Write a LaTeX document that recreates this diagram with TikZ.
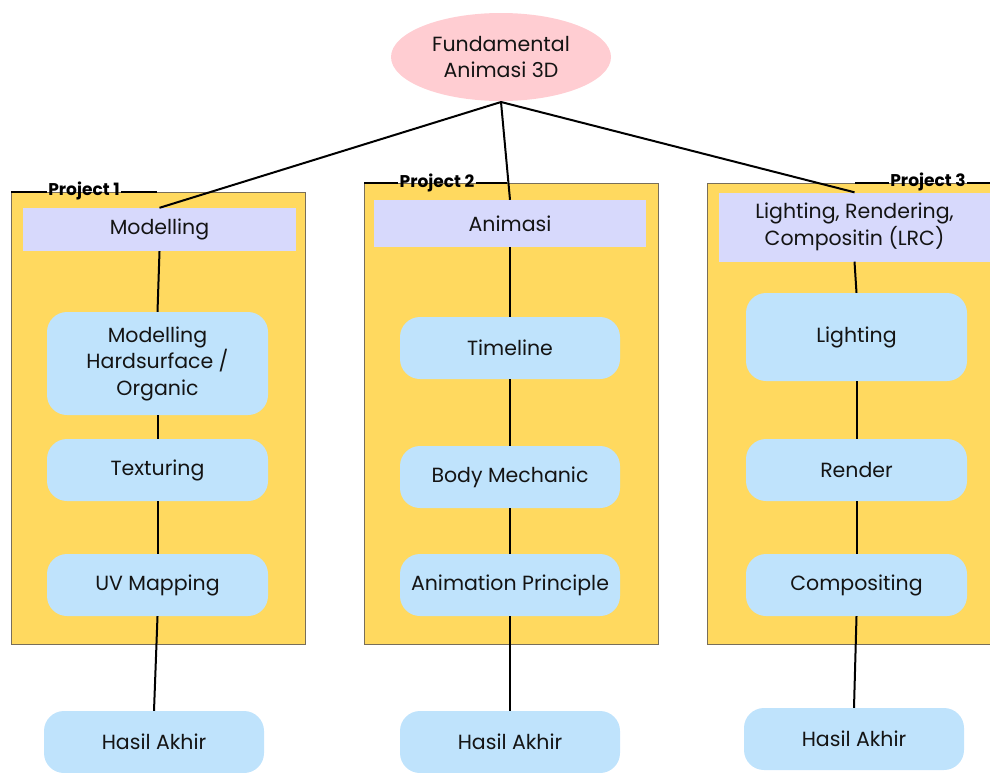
\documentclass[tikz,border=0pt]{standalone}
\usepackage{fontspec}
\setmainfont{Poppins}
\usetikzlibrary{shapes.geometric}
\definecolor{rootpink}{RGB}{255,205,210}
\definecolor{headlav}{RGB}{215,217,252}
\definecolor{stepblue}{RGB}{191,227,252}
\definecolor{frameyel}{RGB}{255,217,95}
\definecolor{framegray}{RGB}{120,110,90}
\tikzset{
  txt/.style={font=\fontsize{20.5}{26.5}\selectfont, text=black!92, align=center},
  rootnode/.style={ellipse, fill=rootpink, minimum width=220pt, minimum height=88pt, inner sep=0pt, txt},
  headbox/.style={rectangle, fill=headlav, inner sep=0pt, txt},
  stepbox/.style={rectangle, rounded corners=20pt, fill=stepblue, inner sep=0pt, minimum width=221pt, txt},
  projframe/.style={fill=frameyel, draw=framegray, line width=0.6pt},
  projlabel/.style={font=\fontsize{17}{20}\bfseries\selectfont, inner sep=1pt},
  link/.style={line width=2pt, black},
  tagline/.style={line width=2pt, black}
}
\begin{document}
\begin{tikzpicture}[x=1pt, y=-1pt]
\useasboundingbox (0,0) rectangle (990,772);

% project frames
\path[projframe] (11,192) rectangle (305,644);
\path[projframe] (364,183) rectangle (658,644);
\path[projframe] (707,183) rectangle (996,644);

% project tags on the top edges
\node[projlabel] (p1) at (84,191) {Project 1};
\node[projlabel] (p2) at (437,183) {Project 2};
\node[projlabel] (p3) at (928,182) {Project 3};
\coordinate (p1a) at (11,192);  \coordinate (p1b) at (157,192);
\coordinate (p2a) at (364,183); \coordinate (p2b) at (507,183);
\coordinate (p3a) at (855,183); \coordinate (p3b) at (996,183);
\draw[tagline] (p1a) -- (p1a -| p1.west);
\draw[tagline] (p1b -| p1.east) -- (p1b);
\draw[tagline] (p2a) -- (p2a -| p2.west);
\draw[tagline] (p2b -| p2.east) -- (p2b);
\draw[tagline] (p3a) -- (p3a -| p3.west);
\draw[tagline] (p3b -| p3.east) -- (p3b);

% root
\node[rootnode] (root) at (501,57) {Fundamental\\Animasi 3D};

% headers
\node[headbox, minimum width=273pt, minimum height=43pt] (h1) at (159.5,229.5) {Modelling};
\node[headbox, minimum width=272pt, minimum height=47pt] (h2) at (510,223.5) {Animasi};
\node[headbox, minimum width=271pt, minimum height=69pt] (h3) at (854.5,227) {Lighting, Rendering,\\Compositin (LRC)};

% project 1 steps
\node[stepbox, minimum height=103pt] (a1) at (157.5,363.5) {Modelling\\Hardsurface /\\Organic};
\node[stepbox, minimum height=62pt] (a2) at (157.5,470) {Texturing};
\node[stepbox, minimum height=62pt] (a3) at (157.5,585) {UV Mapping};
\node[stepbox, minimum height=62pt, minimum width=220pt] (a4) at (154,742) {Hasil Akhir};

% project 2 steps
\node[stepbox, minimum height=62pt, minimum width=220pt] (b1) at (510,348) {Timeline};
\node[stepbox, minimum height=62pt, minimum width=220pt] (b2) at (510,477) {Body Mechanic};
\node[stepbox, minimum height=62pt, minimum width=220pt] (b3) at (510,585) {Animation Principle};
\node[stepbox, minimum height=62pt, minimum width=220pt] (b4) at (510,742) {Hasil Akhir};

% project 3 steps
\node[stepbox, minimum height=88pt] (c1) at (856.5,337) {Lighting};
\node[stepbox, minimum height=62pt] (c2) at (856.5,470) {Render};
\node[stepbox, minimum height=62pt] (c3) at (856.5,585) {Compositing};
\node[stepbox, minimum height=62pt, minimum width=220pt] (c4) at (854,739) {Hasil Akhir};

% connectors
\coordinate (rootfoot) at (501,102);
\draw[link] (rootfoot) -- (h1.north);
\draw[link] (rootfoot) -- (h2.north);
\draw[link] (rootfoot) -- (h3.north);

\draw[link] (h1.south) -- (a1.north);
\draw[link] (a1.south) -- (a2.north);
\draw[link] (a2.south) -- (a3.north);
\draw[link] (a3.south) -- (a4.north);

\draw[link] (h2.south) -- (b1.north);
\draw[link] (b1.south) -- (b2.north);
\draw[link] (b2.south) -- (b3.north);
\draw[link] (b3.south) -- (b4.north);

\draw[link] (h3.south) -- (c1.north);
\draw[link] (c1.south) -- (c2.north);
\draw[link] (c2.south) -- (c3.north);
\draw[link] (c3.south) -- (c4.north);
\end{tikzpicture}
\end{document}
